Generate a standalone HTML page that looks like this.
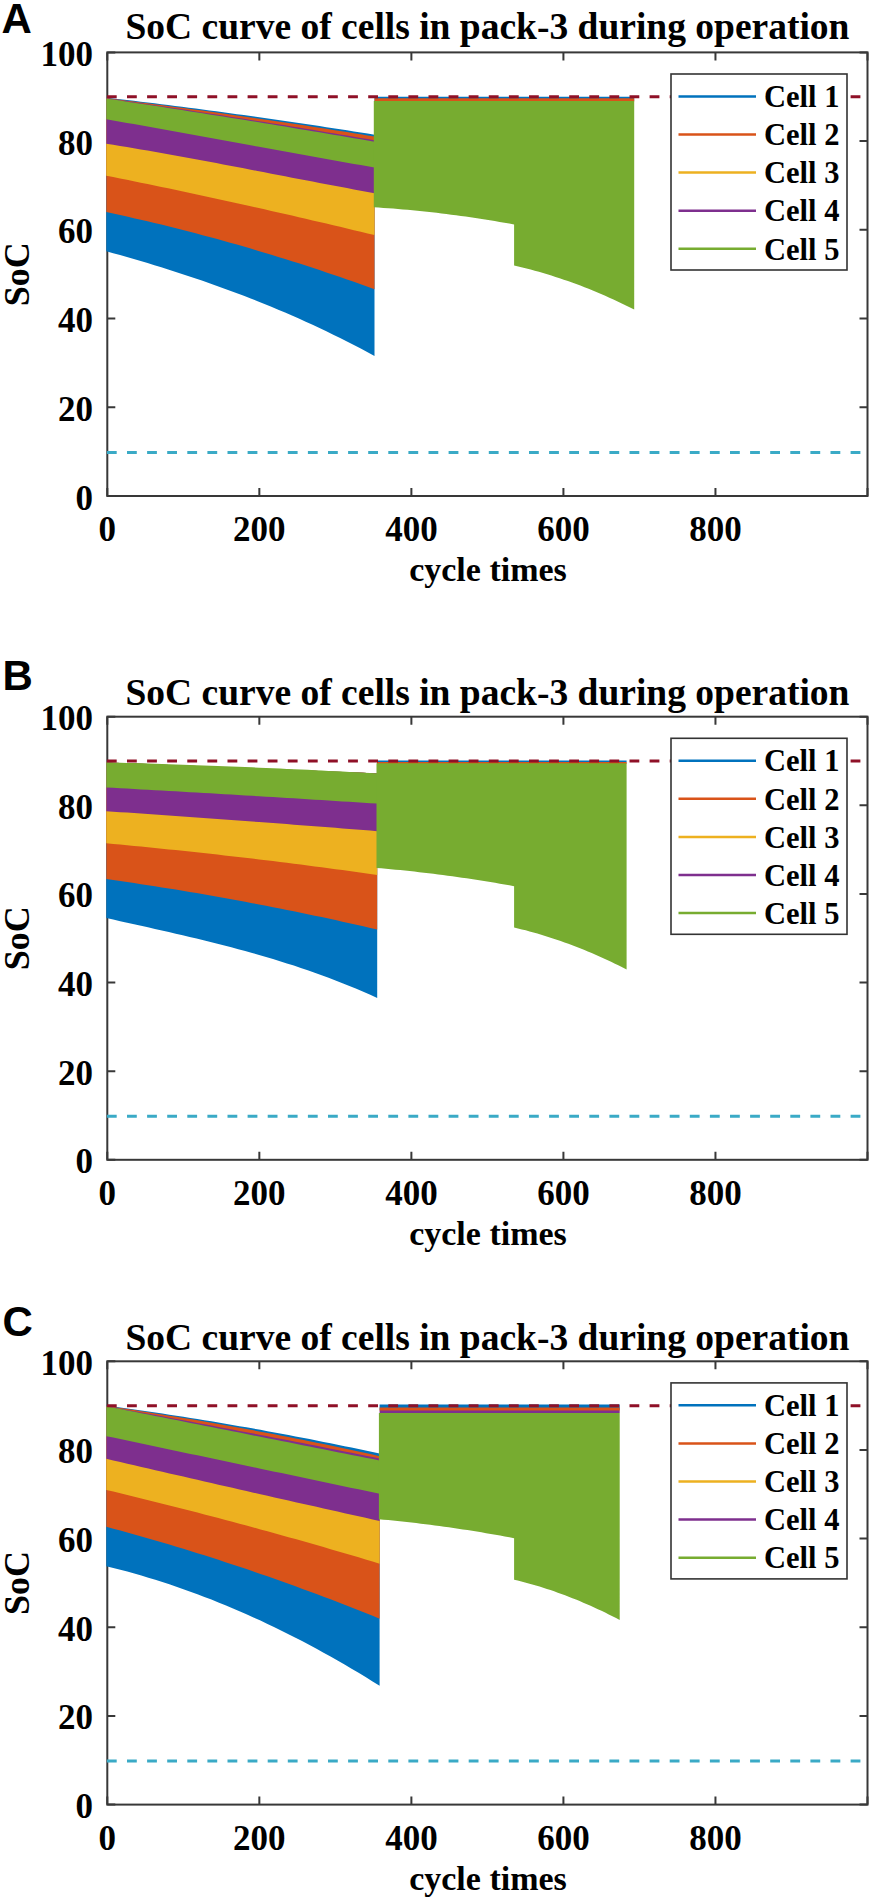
<!DOCTYPE html>
<html><head><meta charset="utf-8"><style>
html,body{margin:0;padding:0;background:#fff;}
svg{display:block;}
</style></head><body>
<svg width="872" height="1901" viewBox="0 0 872 1901">
<rect width="872" height="1901" fill="#fff"/>
<text x="1.5" y="32.5" font-family="Liberation Sans" font-weight="bold" font-size="42">A</text>
<text x="487.5" y="39.2" text-anchor="middle" font-family="Liberation Serif" font-weight="bold" font-size="37.5">SoC curve of cells in pack-3 during operation</text>
<rect x="107.3" y="52.4" width="760.20" height="443.60" fill="none" stroke="#383838" stroke-width="2"/>
<path d="M107.3,496.00 h8 M867.5,496.00 h-8 M107.3,407.28 h8 M867.5,407.28 h-8 M107.3,318.56 h8 M867.5,318.56 h-8 M107.3,229.84 h8 M867.5,229.84 h-8 M107.3,141.12 h8 M867.5,141.12 h-8 M107.3,52.40 h8 M867.5,52.40 h-8 M107.30,496.0 v-8 M107.30,52.4 v8 M259.34,496.0 v-8 M259.34,52.4 v8 M411.38,496.0 v-8 M411.38,52.4 v8 M563.42,496.0 v-8 M563.42,52.4 v8 M715.46,496.0 v-8 M715.46,52.4 v8 M867.50,496.0 v-8 M867.50,52.4 v8" stroke="#383838" stroke-width="2" fill="none"/>
<path d="M106.30,97.65 L113.18,98.44 L120.05,99.24 L126.93,100.05 L133.81,100.87 L140.68,101.70 L147.56,102.53 L154.44,103.37 L161.32,104.22 L168.19,105.08 L175.07,105.95 L181.95,106.83 L188.82,107.71 L195.70,108.60 L202.58,109.50 L209.45,110.41 L216.33,111.33 L223.21,112.25 L230.08,113.19 L236.96,114.13 L243.84,115.08 L250.72,116.04 L257.59,117.00 L264.47,117.98 L271.35,118.96 L278.22,119.95 L285.10,120.95 L291.98,121.96 L298.85,122.98 L305.73,124.00 L312.61,125.04 L319.48,126.08 L326.36,127.13 L333.24,128.18 L340.12,129.25 L346.99,130.33 L353.87,131.41 L360.75,132.50 L367.62,133.60 L374.50,134.71 L374.50,355.90 L367.62,352.20 L360.75,348.56 L353.87,344.98 L346.99,341.47 L340.12,338.03 L333.24,334.64 L326.36,331.32 L319.48,328.06 L312.61,324.85 L305.73,321.71 L298.85,318.62 L291.98,315.59 L285.10,312.61 L278.22,309.69 L271.35,306.82 L264.47,304.00 L257.59,301.23 L250.72,298.52 L243.84,295.85 L236.96,293.23 L230.08,290.66 L223.21,288.13 L216.33,285.65 L209.45,283.22 L202.58,280.82 L195.70,278.47 L188.82,276.16 L181.95,273.89 L175.07,271.66 L168.19,269.47 L161.32,267.31 L154.44,265.19 L147.56,263.11 L140.68,261.05 L133.81,259.04 L126.93,257.05 L120.05,255.09 L113.18,253.17 L106.30,251.27 Z" fill="#0072BD"/>
<path d="M106.30,98.12 L113.18,98.96 L120.05,99.81 L126.93,100.67 L133.81,101.54 L140.68,102.41 L147.56,103.29 L154.44,104.18 L161.32,105.08 L168.19,105.98 L175.07,106.89 L181.95,107.81 L188.82,108.74 L195.70,109.67 L202.58,110.61 L209.45,111.56 L216.33,112.51 L223.21,113.48 L230.08,114.45 L236.96,115.43 L243.84,116.41 L250.72,117.40 L257.59,118.40 L264.47,119.41 L271.35,120.43 L278.22,121.45 L285.10,122.48 L291.98,123.52 L298.85,124.56 L305.73,125.62 L312.61,126.68 L319.48,127.75 L326.36,128.82 L333.24,129.90 L340.12,130.99 L346.99,132.09 L353.87,133.20 L360.75,134.31 L367.62,135.43 L374.50,136.56 L374.50,289.22 L367.62,286.74 L360.75,284.29 L353.87,281.86 L346.99,279.45 L340.12,277.08 L333.24,274.72 L326.36,272.40 L319.48,270.10 L312.61,267.83 L305.73,265.59 L298.85,263.37 L291.98,261.18 L285.10,259.02 L278.22,256.88 L271.35,254.77 L264.47,252.69 L257.59,250.63 L250.72,248.60 L243.84,246.59 L236.96,244.62 L230.08,242.67 L223.21,240.74 L216.33,238.84 L209.45,236.97 L202.58,235.13 L195.70,233.31 L188.82,231.52 L181.95,229.75 L175.07,228.01 L168.19,226.30 L161.32,224.62 L154.44,222.96 L147.56,221.33 L140.68,219.72 L133.81,218.14 L126.93,216.59 L120.05,215.07 L113.18,213.57 L106.30,212.10 Z" fill="#D95319"/>
<path d="M106.30,98.49 L113.18,99.60 L120.05,100.72 L126.93,101.83 L133.81,102.95 L140.68,104.07 L147.56,105.18 L154.44,106.30 L161.32,107.41 L168.19,108.53 L175.07,109.64 L181.95,110.76 L188.82,111.88 L195.70,112.99 L202.58,114.11 L209.45,115.22 L216.33,116.34 L223.21,117.45 L230.08,118.57 L236.96,119.69 L243.84,120.80 L250.72,121.92 L257.59,123.03 L264.47,124.15 L271.35,125.26 L278.22,126.38 L285.10,127.50 L291.98,128.61 L298.85,129.73 L305.73,130.84 L312.61,131.96 L319.48,133.07 L326.36,134.19 L333.24,135.31 L340.12,136.42 L346.99,137.54 L353.87,138.65 L360.75,139.77 L367.62,140.88 L374.50,142.00 L374.50,235.12 L367.62,233.45 L360.75,231.79 L353.87,230.14 L346.99,228.49 L340.12,226.85 L333.24,225.22 L326.36,223.60 L319.48,221.98 L312.61,220.38 L305.73,218.78 L298.85,217.18 L291.98,215.60 L285.10,214.02 L278.22,212.45 L271.35,210.89 L264.47,209.33 L257.59,207.78 L250.72,206.24 L243.84,204.71 L236.96,203.19 L230.08,201.67 L223.21,200.16 L216.33,198.66 L209.45,197.17 L202.58,195.68 L195.70,194.20 L188.82,192.73 L181.95,191.26 L175.07,189.81 L168.19,188.36 L161.32,186.92 L154.44,185.48 L147.56,184.06 L140.68,182.64 L133.81,181.23 L126.93,179.83 L120.05,178.43 L113.18,177.04 L106.30,175.66 Z" fill="#EDB120"/>
<path d="M106.30,98.33 L113.18,99.30 L120.05,100.28 L126.93,101.26 L133.81,102.25 L140.68,103.24 L147.56,104.24 L154.44,105.24 L161.32,106.25 L168.19,107.27 L175.07,108.29 L181.95,109.31 L188.82,110.34 L195.70,111.38 L202.58,112.42 L209.45,113.47 L216.33,114.53 L223.21,115.58 L230.08,116.65 L236.96,117.72 L243.84,118.80 L250.72,119.88 L257.59,120.97 L264.47,122.06 L271.35,123.16 L278.22,124.26 L285.10,125.37 L291.98,126.49 L298.85,127.61 L305.73,128.73 L312.61,129.86 L319.48,131.00 L326.36,132.15 L333.24,133.29 L340.12,134.45 L346.99,135.61 L353.87,136.77 L360.75,137.94 L367.62,139.12 L374.50,140.30 L374.50,193.17 L367.62,191.92 L360.75,190.66 L353.87,189.40 L346.99,188.12 L340.12,186.83 L333.24,185.53 L326.36,184.23 L319.48,182.92 L312.61,181.61 L305.73,180.29 L298.85,178.96 L291.98,177.63 L285.10,176.30 L278.22,174.97 L271.35,173.64 L264.47,172.31 L257.59,170.98 L250.72,169.65 L243.84,168.33 L236.96,167.00 L230.08,165.69 L223.21,164.38 L216.33,163.07 L209.45,161.78 L202.58,160.49 L195.70,159.21 L188.82,157.94 L181.95,156.68 L175.07,155.43 L168.19,154.19 L161.32,152.97 L154.44,151.76 L147.56,150.57 L140.68,149.40 L133.81,148.24 L126.93,147.09 L120.05,145.97 L113.18,144.87 L106.30,143.78 Z" fill="#7E2F8E"/>
<path d="M106.30,98.55 L113.18,99.57 L120.05,100.60 L126.93,101.64 L133.81,102.68 L140.68,103.72 L147.56,104.76 L154.44,105.82 L161.32,106.87 L168.19,107.93 L175.07,109.00 L181.95,110.06 L188.82,111.14 L195.70,112.21 L202.58,113.30 L209.45,114.38 L216.33,115.47 L223.21,116.57 L230.08,117.66 L236.96,118.77 L243.84,119.87 L250.72,120.99 L257.59,122.10 L264.47,123.22 L271.35,124.35 L278.22,125.48 L285.10,126.61 L291.98,127.75 L298.85,128.89 L305.73,130.04 L312.61,131.19 L319.48,132.34 L326.36,133.50 L333.24,134.66 L340.12,135.83 L346.99,137.00 L353.87,138.18 L360.75,139.36 L367.62,140.55 L374.50,141.74 L374.50,167.53 L367.62,166.33 L360.75,165.12 L353.87,163.90 L346.99,162.68 L340.12,161.45 L333.24,160.23 L326.36,158.99 L319.48,157.76 L312.61,156.52 L305.73,155.28 L298.85,154.03 L291.98,152.79 L285.10,151.54 L278.22,150.29 L271.35,149.04 L264.47,147.79 L257.59,146.53 L250.72,145.28 L243.84,144.02 L236.96,142.77 L230.08,141.51 L223.21,140.26 L216.33,139.00 L209.45,137.75 L202.58,136.50 L195.70,135.25 L188.82,134.00 L181.95,132.75 L175.07,131.51 L168.19,130.26 L161.32,129.02 L154.44,127.79 L147.56,126.55 L140.68,125.32 L133.81,124.10 L126.93,122.88 L120.05,121.66 L113.18,120.45 L106.30,119.24 Z" fill="#77AC30"/>
<path d="M374.50,96.80 L381.16,96.80 L387.82,96.80 L394.48,96.80 L401.14,96.80 L407.79,96.80 L414.45,96.80 L421.11,96.80 L427.77,96.80 L434.43,96.80 L441.09,96.80 L447.75,96.80 L454.41,96.80 L461.07,96.80 L467.73,96.80 L474.38,96.80 L481.04,96.80 L487.70,96.80 L494.36,96.80 L501.02,96.80 L507.68,96.80 L514.34,96.80 L521.00,96.80 L527.66,96.80 L534.32,96.80 L540.97,96.80 L547.63,96.80 L554.29,96.80 L560.95,96.80 L567.61,96.80 L574.27,96.80 L580.93,96.80 L587.59,96.80 L594.25,96.80 L600.91,96.80 L607.56,96.80 L614.22,96.80 L620.88,96.80 L627.54,96.80 L634.20,96.80 L634.20,101.00 L627.54,101.00 L620.88,101.00 L614.22,101.00 L607.56,101.00 L600.91,101.00 L594.25,101.00 L587.59,101.00 L580.93,101.00 L574.27,101.00 L567.61,101.00 L560.95,101.00 L554.29,101.00 L547.63,101.00 L540.97,101.00 L534.32,101.00 L527.66,101.00 L521.00,101.00 L514.34,101.00 L507.68,101.00 L501.02,101.00 L494.36,101.00 L487.70,101.00 L481.04,101.00 L474.38,101.00 L467.73,101.00 L461.07,101.00 L454.41,101.00 L447.75,101.00 L441.09,101.00 L434.43,101.00 L427.77,101.00 L421.11,101.00 L414.45,101.00 L407.79,101.00 L401.14,101.00 L394.48,101.00 L387.82,101.00 L381.16,101.00 L374.50,101.00 Z" fill="#0072BD"/>
<path d="M374.50,98.20 L381.16,98.20 L387.82,98.20 L394.48,98.20 L401.14,98.20 L407.79,98.20 L414.45,98.20 L421.11,98.20 L427.77,98.20 L434.43,98.20 L441.09,98.20 L447.75,98.20 L454.41,98.20 L461.07,98.20 L467.73,98.20 L474.38,98.20 L481.04,98.20 L487.70,98.20 L494.36,98.20 L501.02,98.20 L507.68,98.20 L514.34,98.20 L521.00,98.20 L527.66,98.20 L534.32,98.20 L540.97,98.20 L547.63,98.20 L554.29,98.20 L560.95,98.20 L567.61,98.20 L574.27,98.20 L580.93,98.20 L587.59,98.20 L594.25,98.20 L600.91,98.20 L607.56,98.20 L614.22,98.20 L620.88,98.20 L627.54,98.20 L634.20,98.20 L634.20,101.50 L627.54,101.50 L620.88,101.50 L614.22,101.50 L607.56,101.50 L600.91,101.50 L594.25,101.50 L587.59,101.50 L580.93,101.50 L574.27,101.50 L567.61,101.50 L560.95,101.50 L554.29,101.50 L547.63,101.50 L540.97,101.50 L534.32,101.50 L527.66,101.50 L521.00,101.50 L514.34,101.50 L507.68,101.50 L501.02,101.50 L494.36,101.50 L487.70,101.50 L481.04,101.50 L474.38,101.50 L467.73,101.50 L461.07,101.50 L454.41,101.50 L447.75,101.50 L441.09,101.50 L434.43,101.50 L427.77,101.50 L421.11,101.50 L414.45,101.50 L407.79,101.50 L401.14,101.50 L394.48,101.50 L387.82,101.50 L381.16,101.50 L374.50,101.50 Z" fill="#D95319"/>
<path d="M373.80,101.00 L634.20,101.00 L634.20,309.50 L630.06,307.42 L625.92,305.39 L621.78,303.39 L617.63,301.43 L613.49,299.52 L609.35,297.64 L605.21,295.80 L601.07,294.01 L596.93,292.25 L592.79,290.53 L588.64,288.86 L584.50,287.22 L580.36,285.62 L576.22,284.06 L572.08,282.55 L567.94,281.07 L563.80,279.63 L559.66,278.23 L555.51,276.88 L551.37,275.56 L547.23,274.28 L543.09,273.04 L538.95,271.85 L534.81,270.69 L530.67,269.57 L526.52,268.49 L522.38,267.46 L518.24,266.46 L514.10,265.50 L514.10,224.50 L509.26,223.62 L504.42,222.76 L499.59,221.92 L494.75,221.10 L489.91,220.31 L485.07,219.53 L480.23,218.77 L475.40,218.04 L470.56,217.32 L465.72,216.62 L460.88,215.95 L456.04,215.29 L451.21,214.66 L446.37,214.04 L441.53,213.45 L436.69,212.87 L431.86,212.32 L427.02,211.78 L422.18,211.27 L417.34,210.78 L412.50,210.31 L407.67,209.85 L402.83,209.42 L397.99,209.01 L393.15,208.62 L388.31,208.25 L383.48,207.90 L378.64,207.57 L373.80,207.26 Z" fill="#77AC30"/>
<line x1="106.9" y1="96.76" x2="867.5" y2="96.76" stroke="#8F1027" stroke-width="3" stroke-dasharray="9.8 10.3"/>
<line x1="106.9" y1="452.44" x2="867.5" y2="452.44" stroke="#3AAAC6" stroke-width="3" stroke-dasharray="9.8 10.3"/>
<text x="93" y="509.50" text-anchor="end" font-family="Liberation Serif" font-weight="bold" font-size="35">0</text>
<text x="93" y="420.78" text-anchor="end" font-family="Liberation Serif" font-weight="bold" font-size="35">20</text>
<text x="93" y="332.06" text-anchor="end" font-family="Liberation Serif" font-weight="bold" font-size="35">40</text>
<text x="93" y="243.34" text-anchor="end" font-family="Liberation Serif" font-weight="bold" font-size="35">60</text>
<text x="93" y="154.62" text-anchor="end" font-family="Liberation Serif" font-weight="bold" font-size="35">80</text>
<text x="93" y="65.90" text-anchor="end" font-family="Liberation Serif" font-weight="bold" font-size="35">100</text>
<text x="107.30" y="541.30" text-anchor="middle" font-family="Liberation Serif" font-weight="bold" font-size="35">0</text>
<text x="259.34" y="541.30" text-anchor="middle" font-family="Liberation Serif" font-weight="bold" font-size="35">200</text>
<text x="411.38" y="541.30" text-anchor="middle" font-family="Liberation Serif" font-weight="bold" font-size="35">400</text>
<text x="563.42" y="541.30" text-anchor="middle" font-family="Liberation Serif" font-weight="bold" font-size="35">600</text>
<text x="715.46" y="541.30" text-anchor="middle" font-family="Liberation Serif" font-weight="bold" font-size="35">800</text>
<text x="488" y="581.00" text-anchor="middle" font-family="Liberation Serif" font-weight="bold" font-size="34">cycle times</text>
<text transform="translate(28.5,274.20) rotate(-90)" x="0" y="0" text-anchor="middle" font-family="Liberation Serif" font-weight="bold" font-size="36">SoC</text>
<rect x="671" y="74.00" width="176" height="196" fill="#fff" stroke="#333" stroke-width="1.6"/>
<line x1="678.5" y1="96.40" x2="756" y2="96.40" stroke="#0072BD" stroke-width="2.5"/>
<text x="764" y="107.10" font-family="Liberation Serif" font-weight="bold" font-size="30.5">Cell 1</text>
<line x1="678.5" y1="134.50" x2="756" y2="134.50" stroke="#D95319" stroke-width="2.5"/>
<text x="764" y="145.20" font-family="Liberation Serif" font-weight="bold" font-size="30.5">Cell 2</text>
<line x1="678.5" y1="172.60" x2="756" y2="172.60" stroke="#EDB120" stroke-width="2.5"/>
<text x="764" y="183.30" font-family="Liberation Serif" font-weight="bold" font-size="30.5">Cell 3</text>
<line x1="678.5" y1="210.70" x2="756" y2="210.70" stroke="#7E2F8E" stroke-width="2.5"/>
<text x="764" y="221.40" font-family="Liberation Serif" font-weight="bold" font-size="30.5">Cell 4</text>
<line x1="678.5" y1="248.80" x2="756" y2="248.80" stroke="#77AC30" stroke-width="2.5"/>
<text x="764" y="259.50" font-family="Liberation Serif" font-weight="bold" font-size="30.5">Cell 5</text>
<text x="2.5" y="690.1" font-family="Liberation Sans" font-weight="bold" font-size="42">B</text>
<text x="487.5" y="704.7" text-anchor="middle" font-family="Liberation Serif" font-weight="bold" font-size="37.5">SoC curve of cells in pack-3 during operation</text>
<rect x="107.3" y="716.7" width="760.20" height="443.10" fill="none" stroke="#383838" stroke-width="2"/>
<path d="M107.3,1159.80 h8 M867.5,1159.80 h-8 M107.3,1071.18 h8 M867.5,1071.18 h-8 M107.3,982.56 h8 M867.5,982.56 h-8 M107.3,893.94 h8 M867.5,893.94 h-8 M107.3,805.32 h8 M867.5,805.32 h-8 M107.3,716.70 h8 M867.5,716.70 h-8 M107.30,1159.8 v-8 M107.30,716.7 v8 M259.34,1159.8 v-8 M259.34,716.7 v8 M411.38,1159.8 v-8 M411.38,716.7 v8 M563.42,1159.8 v-8 M563.42,716.7 v8 M715.46,1159.8 v-8 M715.46,716.7 v8 M867.50,1159.8 v-8 M867.50,716.7 v8" stroke="#383838" stroke-width="2" fill="none"/>
<path d="M106.30,762.37 L113.25,762.65 L120.19,762.94 L127.14,763.22 L134.08,763.50 L141.03,763.79 L147.98,764.07 L154.92,764.35 L161.87,764.64 L168.82,764.92 L175.76,765.20 L182.71,765.48 L189.65,765.77 L196.60,766.05 L203.55,766.33 L210.49,766.62 L217.44,766.90 L224.38,767.18 L231.33,767.47 L238.28,767.75 L245.22,768.03 L252.17,768.31 L259.12,768.60 L266.06,768.88 L273.01,769.16 L279.95,769.45 L286.90,769.73 L293.85,770.01 L300.79,770.30 L307.74,770.58 L314.68,770.86 L321.63,771.14 L328.58,771.43 L335.52,771.71 L342.47,771.99 L349.42,772.28 L356.36,772.56 L363.31,772.84 L370.25,773.13 L377.20,773.41 L377.20,997.92 L370.25,994.79 L363.31,991.75 L356.36,988.79 L349.42,985.92 L342.47,983.13 L335.52,980.41 L328.58,977.77 L321.63,975.21 L314.68,972.71 L307.74,970.28 L300.79,967.92 L293.85,965.62 L286.90,963.38 L279.95,961.20 L273.01,959.07 L266.06,957.00 L259.12,954.97 L252.17,953.00 L245.22,951.07 L238.28,949.18 L231.33,947.33 L224.38,945.52 L217.44,943.74 L210.49,942.00 L203.55,940.29 L196.60,938.60 L189.65,936.94 L182.71,935.30 L175.76,933.69 L168.82,932.09 L161.87,930.50 L154.92,928.93 L147.98,927.37 L141.03,925.81 L134.08,924.26 L127.14,922.71 L120.19,921.16 L113.25,919.61 L106.30,918.06 Z" fill="#0072BD"/>
<path d="M106.30,762.37 L113.25,762.65 L120.19,762.94 L127.14,763.22 L134.08,763.50 L141.03,763.79 L147.98,764.07 L154.92,764.35 L161.87,764.64 L168.82,764.92 L175.76,765.20 L182.71,765.48 L189.65,765.77 L196.60,766.05 L203.55,766.33 L210.49,766.62 L217.44,766.90 L224.38,767.18 L231.33,767.47 L238.28,767.75 L245.22,768.03 L252.17,768.31 L259.12,768.60 L266.06,768.88 L273.01,769.16 L279.95,769.45 L286.90,769.73 L293.85,770.01 L300.79,770.30 L307.74,770.58 L314.68,770.86 L321.63,771.14 L328.58,771.43 L335.52,771.71 L342.47,771.99 L349.42,772.28 L356.36,772.56 L363.31,772.84 L370.25,773.13 L377.20,773.41 L377.20,929.49 L370.25,927.88 L363.31,926.30 L356.36,924.73 L349.42,923.17 L342.47,921.63 L335.52,920.11 L328.58,918.61 L321.63,917.12 L314.68,915.65 L307.74,914.19 L300.79,912.75 L293.85,911.33 L286.90,909.92 L279.95,908.53 L273.01,907.15 L266.06,905.80 L259.12,904.45 L252.17,903.13 L245.22,901.82 L238.28,900.53 L231.33,899.25 L224.38,897.99 L217.44,896.74 L210.49,895.52 L203.55,894.31 L196.60,893.11 L189.65,891.93 L182.71,890.77 L175.76,889.62 L168.82,888.49 L161.87,887.38 L154.92,886.28 L147.98,885.20 L141.03,884.14 L134.08,883.09 L127.14,882.06 L120.19,881.04 L113.25,880.05 L106.30,879.06 Z" fill="#D95319"/>
<path d="M106.30,762.37 L113.25,762.65 L120.19,762.94 L127.14,763.22 L134.08,763.50 L141.03,763.79 L147.98,764.07 L154.92,764.35 L161.87,764.64 L168.82,764.92 L175.76,765.20 L182.71,765.48 L189.65,765.77 L196.60,766.05 L203.55,766.33 L210.49,766.62 L217.44,766.90 L224.38,767.18 L231.33,767.47 L238.28,767.75 L245.22,768.03 L252.17,768.31 L259.12,768.60 L266.06,768.88 L273.01,769.16 L279.95,769.45 L286.90,769.73 L293.85,770.01 L300.79,770.30 L307.74,770.58 L314.68,770.86 L321.63,771.14 L328.58,771.43 L335.52,771.71 L342.47,771.99 L349.42,772.28 L356.36,772.56 L363.31,772.84 L370.25,773.13 L377.20,773.41 L377.20,874.95 L370.25,873.96 L363.31,872.98 L356.36,872.01 L349.42,871.05 L342.47,870.10 L335.52,869.16 L328.58,868.23 L321.63,867.31 L314.68,866.39 L307.74,865.49 L300.79,864.60 L293.85,863.71 L286.90,862.84 L279.95,861.97 L273.01,861.11 L266.06,860.27 L259.12,859.43 L252.17,858.60 L245.22,857.78 L238.28,856.97 L231.33,856.17 L224.38,855.38 L217.44,854.59 L210.49,853.82 L203.55,853.06 L196.60,852.30 L189.65,851.56 L182.71,850.82 L175.76,850.10 L168.82,849.38 L161.87,848.67 L154.92,847.98 L147.98,847.29 L141.03,846.61 L134.08,845.94 L127.14,845.28 L120.19,844.62 L113.25,843.98 L106.30,843.35 Z" fill="#EDB120"/>
<path d="M106.30,762.37 L113.25,762.65 L120.19,762.94 L127.14,763.22 L134.08,763.50 L141.03,763.79 L147.98,764.07 L154.92,764.35 L161.87,764.64 L168.82,764.92 L175.76,765.20 L182.71,765.48 L189.65,765.77 L196.60,766.05 L203.55,766.33 L210.49,766.62 L217.44,766.90 L224.38,767.18 L231.33,767.47 L238.28,767.75 L245.22,768.03 L252.17,768.31 L259.12,768.60 L266.06,768.88 L273.01,769.16 L279.95,769.45 L286.90,769.73 L293.85,770.01 L300.79,770.30 L307.74,770.58 L314.68,770.86 L321.63,771.14 L328.58,771.43 L335.52,771.71 L342.47,771.99 L349.42,772.28 L356.36,772.56 L363.31,772.84 L370.25,773.13 L377.20,773.41 L377.20,831.17 L370.25,830.61 L363.31,830.06 L356.36,829.51 L349.42,828.96 L342.47,828.41 L335.52,827.86 L328.58,827.32 L321.63,826.78 L314.68,826.24 L307.74,825.71 L300.79,825.17 L293.85,824.64 L286.90,824.11 L279.95,823.59 L273.01,823.06 L266.06,822.54 L259.12,822.02 L252.17,821.51 L245.22,820.99 L238.28,820.48 L231.33,819.97 L224.38,819.46 L217.44,818.96 L210.49,818.45 L203.55,817.95 L196.60,817.45 L189.65,816.96 L182.71,816.46 L175.76,815.97 L168.82,815.48 L161.87,815.00 L154.92,814.51 L147.98,814.03 L141.03,813.55 L134.08,813.07 L127.14,812.60 L120.19,812.13 L113.25,811.66 L106.30,811.19 Z" fill="#7E2F8E"/>
<path d="M106.30,762.32 L113.25,762.51 L120.19,762.70 L127.14,762.90 L134.08,763.10 L141.03,763.31 L147.98,763.52 L154.92,763.74 L161.87,763.96 L168.82,764.19 L175.76,764.42 L182.71,764.66 L189.65,764.91 L196.60,765.16 L203.55,765.41 L210.49,765.67 L217.44,765.94 L224.38,766.21 L231.33,766.49 L238.28,766.77 L245.22,767.05 L252.17,767.35 L259.12,767.64 L266.06,767.95 L273.01,768.25 L279.95,768.57 L286.90,768.88 L293.85,769.21 L300.79,769.53 L307.74,769.87 L314.68,770.21 L321.63,770.55 L328.58,770.90 L335.52,771.26 L342.47,771.62 L349.42,771.98 L356.36,772.35 L363.31,772.73 L370.25,773.11 L377.20,773.49 L377.20,803.60 L370.25,803.15 L363.31,802.71 L356.36,802.27 L349.42,801.83 L342.47,801.39 L335.52,800.95 L328.58,800.51 L321.63,800.08 L314.68,799.65 L307.74,799.22 L300.79,798.79 L293.85,798.36 L286.90,797.94 L279.95,797.52 L273.01,797.09 L266.06,796.67 L259.12,796.26 L252.17,795.84 L245.22,795.42 L238.28,795.01 L231.33,794.60 L224.38,794.19 L217.44,793.78 L210.49,793.37 L203.55,792.97 L196.60,792.56 L189.65,792.16 L182.71,791.76 L175.76,791.37 L168.82,790.97 L161.87,790.57 L154.92,790.18 L147.98,789.79 L141.03,789.40 L134.08,789.01 L127.14,788.62 L120.19,788.24 L113.25,787.86 L106.30,787.47 Z" fill="#77AC30"/>
<path d="M377.00,760.40 L383.40,760.40 L389.80,760.40 L396.20,760.40 L402.60,760.40 L409.00,760.40 L415.40,760.40 L421.80,760.40 L428.20,760.40 L434.60,760.40 L441.00,760.40 L447.40,760.40 L453.80,760.40 L460.20,760.40 L466.60,760.40 L473.00,760.40 L479.40,760.40 L485.80,760.40 L492.20,760.40 L498.60,760.40 L505.00,760.40 L511.40,760.40 L517.80,760.40 L524.20,760.40 L530.60,760.40 L537.00,760.40 L543.40,760.40 L549.80,760.40 L556.20,760.40 L562.60,760.40 L569.00,760.40 L575.40,760.40 L581.80,760.40 L588.20,760.40 L594.60,760.40 L601.00,760.40 L607.40,760.40 L613.80,760.40 L620.20,760.40 L626.60,760.40 L626.60,762.50 L620.20,762.50 L613.80,762.50 L607.40,762.50 L601.00,762.50 L594.60,762.50 L588.20,762.50 L581.80,762.50 L575.40,762.50 L569.00,762.50 L562.60,762.50 L556.20,762.50 L549.80,762.50 L543.40,762.50 L537.00,762.50 L530.60,762.50 L524.20,762.50 L517.80,762.50 L511.40,762.50 L505.00,762.50 L498.60,762.50 L492.20,762.50 L485.80,762.50 L479.40,762.50 L473.00,762.50 L466.60,762.50 L460.20,762.50 L453.80,762.50 L447.40,762.50 L441.00,762.50 L434.60,762.50 L428.20,762.50 L421.80,762.50 L415.40,762.50 L409.00,762.50 L402.60,762.50 L396.20,762.50 L389.80,762.50 L383.40,762.50 L377.00,762.50 Z" fill="#0072BD"/>
<path d="M377.00,762.00 L383.40,762.00 L389.80,762.00 L396.20,762.00 L402.60,762.00 L409.00,762.00 L415.40,762.00 L421.80,762.00 L428.20,762.00 L434.60,762.00 L441.00,762.00 L447.40,762.00 L453.80,762.00 L460.20,762.00 L466.60,762.00 L473.00,762.00 L479.40,762.00 L485.80,762.00 L492.20,762.00 L498.60,762.00 L505.00,762.00 L511.40,762.00 L517.80,762.00 L524.20,762.00 L530.60,762.00 L537.00,762.00 L543.40,762.00 L549.80,762.00 L556.20,762.00 L562.60,762.00 L569.00,762.00 L575.40,762.00 L581.80,762.00 L588.20,762.00 L594.60,762.00 L601.00,762.00 L607.40,762.00 L613.80,762.00 L620.20,762.00 L626.60,762.00 L626.60,764.00 L620.20,764.00 L613.80,764.00 L607.40,764.00 L601.00,764.00 L594.60,764.00 L588.20,764.00 L581.80,764.00 L575.40,764.00 L569.00,764.00 L562.60,764.00 L556.20,764.00 L549.80,764.00 L543.40,764.00 L537.00,764.00 L530.60,764.00 L524.20,764.00 L517.80,764.00 L511.40,764.00 L505.00,764.00 L498.60,764.00 L492.20,764.00 L485.80,764.00 L479.40,764.00 L473.00,764.00 L466.60,764.00 L460.20,764.00 L453.80,764.00 L447.40,764.00 L441.00,764.00 L434.60,764.00 L428.20,764.00 L421.80,764.00 L415.40,764.00 L409.00,764.00 L402.60,764.00 L396.20,764.00 L389.80,764.00 L383.40,764.00 L377.00,764.00 Z" fill="#D95319"/>
<path d="M376.50,763.30 L626.60,763.30 L626.60,969.50 L622.72,967.52 L618.84,965.58 L614.96,963.68 L611.08,961.82 L607.20,959.99 L603.32,958.20 L599.44,956.45 L595.57,954.74 L591.69,953.07 L587.81,951.43 L583.93,949.83 L580.05,948.27 L576.17,946.75 L572.29,945.26 L568.41,943.81 L564.53,942.40 L560.65,941.03 L556.77,939.69 L552.89,938.40 L549.01,937.14 L545.13,935.91 L541.26,934.73 L537.38,933.58 L533.50,932.48 L529.62,931.41 L525.74,930.37 L521.86,929.38 L517.98,928.42 L514.10,927.50 L514.10,886.20 L509.36,885.34 L504.61,884.50 L499.87,883.68 L495.12,882.87 L490.38,882.08 L485.63,881.31 L480.89,880.55 L476.14,879.80 L471.40,879.08 L466.65,878.37 L461.91,877.67 L457.16,876.99 L452.42,876.33 L447.67,875.69 L442.93,875.06 L438.18,874.44 L433.44,873.85 L428.69,873.26 L423.95,872.70 L419.20,872.15 L414.46,871.62 L409.71,871.10 L404.97,870.60 L400.22,870.12 L395.48,869.65 L390.73,869.20 L385.99,868.76 L381.24,868.34 L376.50,867.94 Z" fill="#77AC30"/>
<line x1="106.9" y1="761.01" x2="867.5" y2="761.01" stroke="#8F1027" stroke-width="3" stroke-dasharray="9.8 10.3"/>
<line x1="106.9" y1="1116.29" x2="867.5" y2="1116.29" stroke="#3AAAC6" stroke-width="3" stroke-dasharray="9.8 10.3"/>
<text x="93" y="1173.30" text-anchor="end" font-family="Liberation Serif" font-weight="bold" font-size="35">0</text>
<text x="93" y="1084.68" text-anchor="end" font-family="Liberation Serif" font-weight="bold" font-size="35">20</text>
<text x="93" y="996.06" text-anchor="end" font-family="Liberation Serif" font-weight="bold" font-size="35">40</text>
<text x="93" y="907.44" text-anchor="end" font-family="Liberation Serif" font-weight="bold" font-size="35">60</text>
<text x="93" y="818.82" text-anchor="end" font-family="Liberation Serif" font-weight="bold" font-size="35">80</text>
<text x="93" y="730.20" text-anchor="end" font-family="Liberation Serif" font-weight="bold" font-size="35">100</text>
<text x="107.30" y="1205.10" text-anchor="middle" font-family="Liberation Serif" font-weight="bold" font-size="35">0</text>
<text x="259.34" y="1205.10" text-anchor="middle" font-family="Liberation Serif" font-weight="bold" font-size="35">200</text>
<text x="411.38" y="1205.10" text-anchor="middle" font-family="Liberation Serif" font-weight="bold" font-size="35">400</text>
<text x="563.42" y="1205.10" text-anchor="middle" font-family="Liberation Serif" font-weight="bold" font-size="35">600</text>
<text x="715.46" y="1205.10" text-anchor="middle" font-family="Liberation Serif" font-weight="bold" font-size="35">800</text>
<text x="488" y="1244.80" text-anchor="middle" font-family="Liberation Serif" font-weight="bold" font-size="34">cycle times</text>
<text transform="translate(28.5,938.25) rotate(-90)" x="0" y="0" text-anchor="middle" font-family="Liberation Serif" font-weight="bold" font-size="36">SoC</text>
<rect x="671" y="738.30" width="176" height="196" fill="#fff" stroke="#333" stroke-width="1.6"/>
<line x1="678.5" y1="760.70" x2="756" y2="760.70" stroke="#0072BD" stroke-width="2.5"/>
<text x="764" y="771.40" font-family="Liberation Serif" font-weight="bold" font-size="30.5">Cell 1</text>
<line x1="678.5" y1="798.80" x2="756" y2="798.80" stroke="#D95319" stroke-width="2.5"/>
<text x="764" y="809.50" font-family="Liberation Serif" font-weight="bold" font-size="30.5">Cell 2</text>
<line x1="678.5" y1="836.90" x2="756" y2="836.90" stroke="#EDB120" stroke-width="2.5"/>
<text x="764" y="847.60" font-family="Liberation Serif" font-weight="bold" font-size="30.5">Cell 3</text>
<line x1="678.5" y1="875.00" x2="756" y2="875.00" stroke="#7E2F8E" stroke-width="2.5"/>
<text x="764" y="885.70" font-family="Liberation Serif" font-weight="bold" font-size="30.5">Cell 4</text>
<line x1="678.5" y1="913.10" x2="756" y2="913.10" stroke="#77AC30" stroke-width="2.5"/>
<text x="764" y="923.80" font-family="Liberation Serif" font-weight="bold" font-size="30.5">Cell 5</text>
<text x="2.5" y="1336.3" font-family="Liberation Sans" font-weight="bold" font-size="42">C</text>
<text x="487.5" y="1349.5" text-anchor="middle" font-family="Liberation Serif" font-weight="bold" font-size="37.5">SoC curve of cells in pack-3 during operation</text>
<rect x="107.3" y="1361.3" width="760.20" height="443.30" fill="none" stroke="#383838" stroke-width="2"/>
<path d="M107.3,1804.60 h8 M867.5,1804.60 h-8 M107.3,1715.94 h8 M867.5,1715.94 h-8 M107.3,1627.28 h8 M867.5,1627.28 h-8 M107.3,1538.62 h8 M867.5,1538.62 h-8 M107.3,1449.96 h8 M867.5,1449.96 h-8 M107.3,1361.30 h8 M867.5,1361.30 h-8 M107.30,1804.6 v-8 M107.30,1361.3 v8 M259.34,1804.6 v-8 M259.34,1361.3 v8 M411.38,1804.6 v-8 M411.38,1361.3 v8 M563.42,1804.6 v-8 M563.42,1361.3 v8 M715.46,1804.6 v-8 M715.46,1361.3 v8 M867.50,1804.6 v-8 M867.50,1361.3 v8" stroke="#383838" stroke-width="2" fill="none"/>
<path d="M106.30,1405.58 L113.31,1406.53 L120.32,1407.49 L127.32,1408.47 L134.33,1409.46 L141.34,1410.47 L148.35,1411.49 L155.35,1412.53 L162.36,1413.58 L169.37,1414.65 L176.38,1415.73 L183.38,1416.82 L190.39,1417.94 L197.40,1419.06 L204.41,1420.20 L211.42,1421.36 L218.42,1422.53 L225.43,1423.72 L232.44,1424.92 L239.45,1426.13 L246.45,1427.36 L253.46,1428.61 L260.47,1429.87 L267.48,1431.15 L274.48,1432.44 L281.49,1433.74 L288.50,1435.06 L295.51,1436.40 L302.52,1437.75 L309.52,1439.11 L316.53,1440.49 L323.54,1441.89 L330.55,1443.30 L337.55,1444.72 L344.56,1446.16 L351.57,1447.61 L358.58,1449.08 L365.58,1450.57 L372.59,1452.07 L379.60,1453.58 L379.60,1685.84 L372.59,1681.44 L365.58,1677.12 L358.58,1672.86 L351.57,1668.68 L344.56,1664.56 L337.55,1660.51 L330.55,1656.54 L323.54,1652.63 L316.53,1648.80 L309.52,1645.03 L302.52,1641.33 L295.51,1637.70 L288.50,1634.15 L281.49,1630.66 L274.48,1627.24 L267.48,1623.89 L260.47,1620.62 L253.46,1617.41 L246.45,1614.27 L239.45,1611.20 L232.44,1608.20 L225.43,1605.27 L218.42,1602.41 L211.42,1599.62 L204.41,1596.90 L197.40,1594.25 L190.39,1591.67 L183.38,1589.16 L176.38,1586.72 L169.37,1584.35 L162.36,1582.05 L155.35,1579.82 L148.35,1577.66 L141.34,1575.57 L134.33,1573.54 L127.32,1571.59 L120.32,1569.71 L113.31,1567.90 L106.30,1566.15 Z" fill="#0072BD"/>
<path d="M106.30,1405.96 L113.31,1406.98 L120.32,1408.01 L127.32,1409.05 L134.33,1410.11 L141.34,1411.19 L148.35,1412.28 L155.35,1413.38 L162.36,1414.50 L169.37,1415.63 L176.38,1416.78 L183.38,1417.94 L190.39,1419.11 L197.40,1420.30 L204.41,1421.50 L211.42,1422.72 L218.42,1423.95 L225.43,1425.19 L232.44,1426.45 L239.45,1427.73 L246.45,1429.01 L253.46,1430.32 L260.47,1431.63 L267.48,1432.96 L274.48,1434.31 L281.49,1435.67 L288.50,1437.04 L295.51,1438.43 L302.52,1439.83 L309.52,1441.24 L316.53,1442.67 L323.54,1444.12 L330.55,1445.57 L337.55,1447.05 L344.56,1448.53 L351.57,1450.03 L358.58,1451.55 L365.58,1453.08 L372.59,1454.62 L379.60,1456.18 L379.60,1618.68 L372.59,1615.84 L365.58,1613.03 L358.58,1610.25 L351.57,1607.49 L344.56,1604.75 L337.55,1602.04 L330.55,1599.36 L323.54,1596.70 L316.53,1594.07 L309.52,1591.46 L302.52,1588.88 L295.51,1586.32 L288.50,1583.79 L281.49,1581.28 L274.48,1578.80 L267.48,1576.34 L260.47,1573.91 L253.46,1571.51 L246.45,1569.12 L239.45,1566.77 L232.44,1564.44 L225.43,1562.13 L218.42,1559.86 L211.42,1557.60 L204.41,1555.37 L197.40,1553.17 L190.39,1550.99 L183.38,1548.84 L176.38,1546.71 L169.37,1544.61 L162.36,1542.53 L155.35,1540.48 L148.35,1538.45 L141.34,1536.45 L134.33,1534.48 L127.32,1532.52 L120.32,1530.60 L113.31,1528.70 L106.30,1526.82 Z" fill="#D95319"/>
<path d="M106.30,1406.16 L113.31,1407.56 L120.32,1408.96 L127.32,1410.36 L134.33,1411.75 L141.34,1413.15 L148.35,1414.55 L155.35,1415.95 L162.36,1417.35 L169.37,1418.75 L176.38,1420.14 L183.38,1421.54 L190.39,1422.94 L197.40,1424.34 L204.41,1425.74 L211.42,1427.14 L218.42,1428.54 L225.43,1429.93 L232.44,1431.33 L239.45,1432.73 L246.45,1434.13 L253.46,1435.53 L260.47,1436.93 L267.48,1438.32 L274.48,1439.72 L281.49,1441.12 L288.50,1442.52 L295.51,1443.92 L302.52,1445.32 L309.52,1446.72 L316.53,1448.11 L323.54,1449.51 L330.55,1450.91 L337.55,1452.31 L344.56,1453.71 L351.57,1455.11 L358.58,1456.50 L365.58,1457.90 L372.59,1459.30 L379.60,1460.70 L379.60,1563.65 L372.59,1561.54 L365.58,1559.45 L358.58,1557.36 L351.57,1555.29 L344.56,1553.22 L337.55,1551.17 L330.55,1549.13 L323.54,1547.11 L316.53,1545.09 L309.52,1543.09 L302.52,1541.09 L295.51,1539.11 L288.50,1537.14 L281.49,1535.18 L274.48,1533.24 L267.48,1531.30 L260.47,1529.38 L253.46,1527.46 L246.45,1525.56 L239.45,1523.67 L232.44,1521.79 L225.43,1519.93 L218.42,1518.07 L211.42,1516.23 L204.41,1514.40 L197.40,1512.58 L190.39,1510.77 L183.38,1508.97 L176.38,1507.18 L169.37,1505.41 L162.36,1503.64 L155.35,1501.89 L148.35,1500.15 L141.34,1498.42 L134.33,1496.71 L127.32,1495.00 L120.32,1493.31 L113.31,1491.62 L106.30,1489.95 Z" fill="#EDB120"/>
<path d="M106.30,1406.11 L113.31,1407.38 L120.32,1408.65 L127.32,1409.93 L134.33,1411.21 L141.34,1412.49 L148.35,1413.78 L155.35,1415.07 L162.36,1416.37 L169.37,1417.67 L176.38,1418.98 L183.38,1420.28 L190.39,1421.60 L197.40,1422.91 L204.41,1424.23 L211.42,1425.55 L218.42,1426.88 L225.43,1428.21 L232.44,1429.55 L239.45,1430.88 L246.45,1432.23 L253.46,1433.57 L260.47,1434.92 L267.48,1436.28 L274.48,1437.63 L281.49,1439.00 L288.50,1440.36 L295.51,1441.73 L302.52,1443.10 L309.52,1444.48 L316.53,1445.86 L323.54,1447.24 L330.55,1448.63 L337.55,1450.02 L344.56,1451.42 L351.57,1452.82 L358.58,1454.22 L365.58,1455.63 L372.59,1457.04 L379.60,1458.46 L379.60,1520.96 L372.59,1519.40 L365.58,1517.84 L358.58,1516.28 L351.57,1514.72 L344.56,1513.15 L337.55,1511.58 L330.55,1510.02 L323.54,1508.44 L316.53,1506.87 L309.52,1505.30 L302.52,1503.72 L295.51,1502.14 L288.50,1500.56 L281.49,1498.98 L274.48,1497.39 L267.48,1495.81 L260.47,1494.22 L253.46,1492.63 L246.45,1491.04 L239.45,1489.44 L232.44,1487.85 L225.43,1486.25 L218.42,1484.65 L211.42,1483.05 L204.41,1481.44 L197.40,1479.84 L190.39,1478.23 L183.38,1476.62 L176.38,1475.01 L169.37,1473.40 L162.36,1471.78 L155.35,1470.16 L148.35,1468.55 L141.34,1466.92 L134.33,1465.30 L127.32,1463.68 L120.32,1462.05 L113.31,1460.42 L106.30,1458.79 Z" fill="#7E2F8E"/>
<path d="M106.30,1406.30 L113.31,1407.68 L120.32,1409.06 L127.32,1410.44 L134.33,1411.82 L141.34,1413.20 L148.35,1414.59 L155.35,1415.97 L162.36,1417.35 L169.37,1418.74 L176.38,1420.12 L183.38,1421.51 L190.39,1422.89 L197.40,1424.28 L204.41,1425.67 L211.42,1427.05 L218.42,1428.44 L225.43,1429.83 L232.44,1431.22 L239.45,1432.61 L246.45,1434.00 L253.46,1435.39 L260.47,1436.78 L267.48,1438.17 L274.48,1439.57 L281.49,1440.96 L288.50,1442.35 L295.51,1443.75 L302.52,1445.14 L309.52,1446.54 L316.53,1447.93 L323.54,1449.33 L330.55,1450.73 L337.55,1452.13 L344.56,1453.52 L351.57,1454.92 L358.58,1456.32 L365.58,1457.72 L372.59,1459.12 L379.60,1460.53 L379.60,1493.79 L372.59,1492.31 L365.58,1490.84 L358.58,1489.36 L351.57,1487.88 L344.56,1486.40 L337.55,1484.93 L330.55,1483.45 L323.54,1481.97 L316.53,1480.49 L309.52,1479.02 L302.52,1477.54 L295.51,1476.06 L288.50,1474.58 L281.49,1473.10 L274.48,1471.63 L267.48,1470.15 L260.47,1468.67 L253.46,1467.19 L246.45,1465.71 L239.45,1464.24 L232.44,1462.76 L225.43,1461.28 L218.42,1459.80 L211.42,1458.32 L204.41,1456.84 L197.40,1455.36 L190.39,1453.89 L183.38,1452.41 L176.38,1450.93 L169.37,1449.45 L162.36,1447.97 L155.35,1446.49 L148.35,1445.01 L141.34,1443.54 L134.33,1442.06 L127.32,1440.58 L120.32,1439.10 L113.31,1437.62 L106.30,1436.14 Z" fill="#77AC30"/>
<path d="M379.60,1404.50 L385.76,1404.50 L391.91,1404.50 L398.07,1404.50 L404.23,1404.50 L410.38,1404.50 L416.54,1404.50 L422.69,1404.50 L428.85,1404.50 L435.01,1404.50 L441.16,1404.50 L447.32,1404.50 L453.48,1404.50 L459.63,1404.50 L465.79,1404.50 L471.95,1404.50 L478.10,1404.50 L484.26,1404.50 L490.42,1404.50 L496.57,1404.50 L502.73,1404.50 L508.88,1404.50 L515.04,1404.50 L521.20,1404.50 L527.35,1404.50 L533.51,1404.50 L539.67,1404.50 L545.82,1404.50 L551.98,1404.50 L558.14,1404.50 L564.29,1404.50 L570.45,1404.50 L576.61,1404.50 L582.76,1404.50 L588.92,1404.50 L595.07,1404.50 L601.23,1404.50 L607.39,1404.50 L613.54,1404.50 L619.70,1404.50 L619.70,1410.00 L613.54,1410.00 L607.39,1410.00 L601.23,1410.00 L595.07,1410.00 L588.92,1410.00 L582.76,1410.00 L576.61,1410.00 L570.45,1410.00 L564.29,1410.00 L558.14,1410.00 L551.98,1410.00 L545.82,1410.00 L539.67,1410.00 L533.51,1410.00 L527.35,1410.00 L521.20,1410.00 L515.04,1410.00 L508.88,1410.00 L502.73,1410.00 L496.57,1410.00 L490.42,1410.00 L484.26,1410.00 L478.10,1410.00 L471.95,1410.00 L465.79,1410.00 L459.63,1410.00 L453.48,1410.00 L447.32,1410.00 L441.16,1410.00 L435.01,1410.00 L428.85,1410.00 L422.69,1410.00 L416.54,1410.00 L410.38,1410.00 L404.23,1410.00 L398.07,1410.00 L391.91,1410.00 L385.76,1410.00 L379.60,1410.00 Z" fill="#0072BD"/>
<path d="M379.60,1407.50 L385.76,1407.50 L391.91,1407.50 L398.07,1407.50 L404.23,1407.50 L410.38,1407.50 L416.54,1407.50 L422.69,1407.50 L428.85,1407.50 L435.01,1407.50 L441.16,1407.50 L447.32,1407.50 L453.48,1407.50 L459.63,1407.50 L465.79,1407.50 L471.95,1407.50 L478.10,1407.50 L484.26,1407.50 L490.42,1407.50 L496.57,1407.50 L502.73,1407.50 L508.88,1407.50 L515.04,1407.50 L521.20,1407.50 L527.35,1407.50 L533.51,1407.50 L539.67,1407.50 L545.82,1407.50 L551.98,1407.50 L558.14,1407.50 L564.29,1407.50 L570.45,1407.50 L576.61,1407.50 L582.76,1407.50 L588.92,1407.50 L595.07,1407.50 L601.23,1407.50 L607.39,1407.50 L613.54,1407.50 L619.70,1407.50 L619.70,1411.00 L613.54,1411.00 L607.39,1411.00 L601.23,1411.00 L595.07,1411.00 L588.92,1411.00 L582.76,1411.00 L576.61,1411.00 L570.45,1411.00 L564.29,1411.00 L558.14,1411.00 L551.98,1411.00 L545.82,1411.00 L539.67,1411.00 L533.51,1411.00 L527.35,1411.00 L521.20,1411.00 L515.04,1411.00 L508.88,1411.00 L502.73,1411.00 L496.57,1411.00 L490.42,1411.00 L484.26,1411.00 L478.10,1411.00 L471.95,1411.00 L465.79,1411.00 L459.63,1411.00 L453.48,1411.00 L447.32,1411.00 L441.16,1411.00 L435.01,1411.00 L428.85,1411.00 L422.69,1411.00 L416.54,1411.00 L410.38,1411.00 L404.23,1411.00 L398.07,1411.00 L391.91,1411.00 L385.76,1411.00 L379.60,1411.00 Z" fill="#D95319"/>
<path d="M379.60,1410.50 L385.76,1410.50 L391.91,1410.50 L398.07,1410.50 L404.23,1410.50 L410.38,1410.50 L416.54,1410.50 L422.69,1410.50 L428.85,1410.50 L435.01,1410.50 L441.16,1410.50 L447.32,1410.50 L453.48,1410.50 L459.63,1410.50 L465.79,1410.50 L471.95,1410.50 L478.10,1410.50 L484.26,1410.50 L490.42,1410.50 L496.57,1410.50 L502.73,1410.50 L508.88,1410.50 L515.04,1410.50 L521.20,1410.50 L527.35,1410.50 L533.51,1410.50 L539.67,1410.50 L545.82,1410.50 L551.98,1410.50 L558.14,1410.50 L564.29,1410.50 L570.45,1410.50 L576.61,1410.50 L582.76,1410.50 L588.92,1410.50 L595.07,1410.50 L601.23,1410.50 L607.39,1410.50 L613.54,1410.50 L619.70,1410.50 L619.70,1413.00 L613.54,1413.00 L607.39,1413.00 L601.23,1413.00 L595.07,1413.00 L588.92,1413.00 L582.76,1413.00 L576.61,1413.00 L570.45,1413.00 L564.29,1413.00 L558.14,1413.00 L551.98,1413.00 L545.82,1413.00 L539.67,1413.00 L533.51,1413.00 L527.35,1413.00 L521.20,1413.00 L515.04,1413.00 L508.88,1413.00 L502.73,1413.00 L496.57,1413.00 L490.42,1413.00 L484.26,1413.00 L478.10,1413.00 L471.95,1413.00 L465.79,1413.00 L459.63,1413.00 L453.48,1413.00 L447.32,1413.00 L441.16,1413.00 L435.01,1413.00 L428.85,1413.00 L422.69,1413.00 L416.54,1413.00 L410.38,1413.00 L404.23,1413.00 L398.07,1413.00 L391.91,1413.00 L385.76,1413.00 L379.60,1413.00 Z" fill="#7E2F8E"/>
<path d="M378.90,1413.00 L619.70,1413.00 L619.70,1620.00 L616.06,1618.10 L612.42,1616.23 L608.78,1614.40 L605.13,1612.61 L601.49,1610.86 L597.85,1609.14 L594.21,1607.46 L590.57,1605.81 L586.93,1604.20 L583.29,1602.63 L579.64,1601.09 L576.00,1599.59 L572.36,1598.13 L568.72,1596.70 L565.08,1595.31 L561.44,1593.96 L557.80,1592.64 L554.16,1591.36 L550.51,1590.12 L546.87,1588.91 L543.23,1587.74 L539.59,1586.61 L535.95,1585.51 L532.31,1584.45 L528.67,1583.43 L525.02,1582.44 L521.38,1581.49 L517.74,1580.58 L514.10,1579.70 L514.10,1538.20 L509.44,1537.32 L504.78,1536.45 L500.11,1535.60 L495.45,1534.77 L490.79,1533.95 L486.13,1533.15 L481.47,1532.37 L476.80,1531.60 L472.14,1530.85 L467.48,1530.11 L462.82,1529.39 L458.16,1528.69 L453.49,1528.00 L448.83,1527.33 L444.17,1526.68 L439.51,1526.04 L434.84,1525.42 L430.18,1524.82 L425.52,1524.23 L420.86,1523.65 L416.20,1523.10 L411.53,1522.56 L406.87,1522.04 L402.21,1521.53 L397.55,1521.04 L392.89,1520.56 L388.22,1520.10 L383.56,1519.66 L378.90,1519.24 Z" fill="#77AC30"/>
<line x1="106.9" y1="1405.63" x2="867.5" y2="1405.63" stroke="#8F1027" stroke-width="3" stroke-dasharray="9.8 10.3"/>
<line x1="106.9" y1="1761.07" x2="867.5" y2="1761.07" stroke="#3AAAC6" stroke-width="3" stroke-dasharray="9.8 10.3"/>
<text x="93" y="1818.10" text-anchor="end" font-family="Liberation Serif" font-weight="bold" font-size="35">0</text>
<text x="93" y="1729.44" text-anchor="end" font-family="Liberation Serif" font-weight="bold" font-size="35">20</text>
<text x="93" y="1640.78" text-anchor="end" font-family="Liberation Serif" font-weight="bold" font-size="35">40</text>
<text x="93" y="1552.12" text-anchor="end" font-family="Liberation Serif" font-weight="bold" font-size="35">60</text>
<text x="93" y="1463.46" text-anchor="end" font-family="Liberation Serif" font-weight="bold" font-size="35">80</text>
<text x="93" y="1374.80" text-anchor="end" font-family="Liberation Serif" font-weight="bold" font-size="35">100</text>
<text x="107.30" y="1849.90" text-anchor="middle" font-family="Liberation Serif" font-weight="bold" font-size="35">0</text>
<text x="259.34" y="1849.90" text-anchor="middle" font-family="Liberation Serif" font-weight="bold" font-size="35">200</text>
<text x="411.38" y="1849.90" text-anchor="middle" font-family="Liberation Serif" font-weight="bold" font-size="35">400</text>
<text x="563.42" y="1849.90" text-anchor="middle" font-family="Liberation Serif" font-weight="bold" font-size="35">600</text>
<text x="715.46" y="1849.90" text-anchor="middle" font-family="Liberation Serif" font-weight="bold" font-size="35">800</text>
<text x="488" y="1889.60" text-anchor="middle" font-family="Liberation Serif" font-weight="bold" font-size="34">cycle times</text>
<text transform="translate(28.5,1582.95) rotate(-90)" x="0" y="0" text-anchor="middle" font-family="Liberation Serif" font-weight="bold" font-size="36">SoC</text>
<rect x="671" y="1382.90" width="176" height="196" fill="#fff" stroke="#333" stroke-width="1.6"/>
<line x1="678.5" y1="1405.30" x2="756" y2="1405.30" stroke="#0072BD" stroke-width="2.5"/>
<text x="764" y="1416.00" font-family="Liberation Serif" font-weight="bold" font-size="30.5">Cell 1</text>
<line x1="678.5" y1="1443.40" x2="756" y2="1443.40" stroke="#D95319" stroke-width="2.5"/>
<text x="764" y="1454.10" font-family="Liberation Serif" font-weight="bold" font-size="30.5">Cell 2</text>
<line x1="678.5" y1="1481.50" x2="756" y2="1481.50" stroke="#EDB120" stroke-width="2.5"/>
<text x="764" y="1492.20" font-family="Liberation Serif" font-weight="bold" font-size="30.5">Cell 3</text>
<line x1="678.5" y1="1519.60" x2="756" y2="1519.60" stroke="#7E2F8E" stroke-width="2.5"/>
<text x="764" y="1530.30" font-family="Liberation Serif" font-weight="bold" font-size="30.5">Cell 4</text>
<line x1="678.5" y1="1557.70" x2="756" y2="1557.70" stroke="#77AC30" stroke-width="2.5"/>
<text x="764" y="1568.40" font-family="Liberation Serif" font-weight="bold" font-size="30.5">Cell 5</text>
</svg>
</body></html>
